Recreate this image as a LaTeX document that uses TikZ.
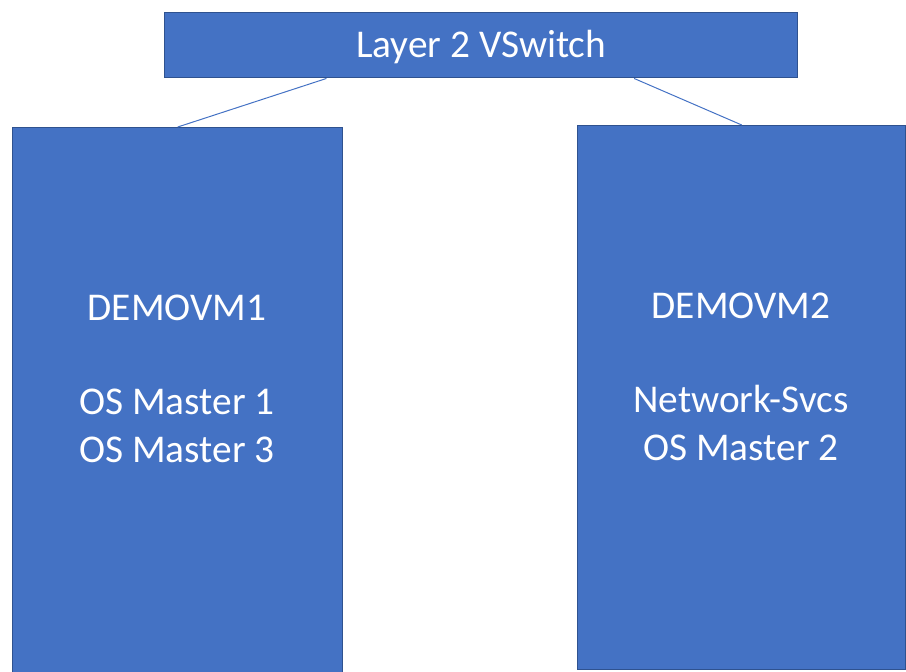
\documentclass[tikz,border=0pt]{standalone}
\usepackage{fontspec}
\setmainfont{Carlito}
\usetikzlibrary{calc}
\definecolor{boxfill}{HTML}{4472C4}
\definecolor{boxline}{HTML}{2F528F}
\begin{document}
\begin{tikzpicture}[x=0.75pt,y=-0.75pt,
  box/.style={draw=boxline,fill=boxfill,line width=1.1pt,inner sep=0pt,anchor=north west},
  boxtext/.style={text=white,font=\fontsize{29.5}{36}\selectfont,align=center,inner sep=0pt},
  link/.style={draw=boxfill,line width=0.75pt}]
\useasboundingbox (0,0) rectangle (906,671);
\node[box,minimum width=633*0.75pt,minimum height=65*0.75pt] (vs) at (164,12) {};
\node[boxtext] (vst) at ($(vs.center)+(0,2)$) {Layer 2 VSwitch};
\node[box,minimum width=330*0.75pt,minimum height=560*0.75pt] (vm1) at (12,127) {};
\node[box,minimum width=328*0.75pt,minimum height=544*0.75pt] (vm2) at (577,125) {};
\node[boxtext] (t1) at (177,379) {DEMOVM1\\[35pt]OS Master 1\\OS Master 3};
\node[boxtext] (t2) at (741,377) {DEMOVM2\\[35pt]Network-Svcs\\OS Master 2};
\coordinate (a1) at ($(vs.south west)!0.256!(vs.south east)$);
\coordinate (a2) at ($(vs.south west)!0.741!(vs.south east)$);
\draw[link] (a1) -- (vm1.north);
\draw[link] (a2) -- (vm2.north);
\end{tikzpicture}
\end{document}
